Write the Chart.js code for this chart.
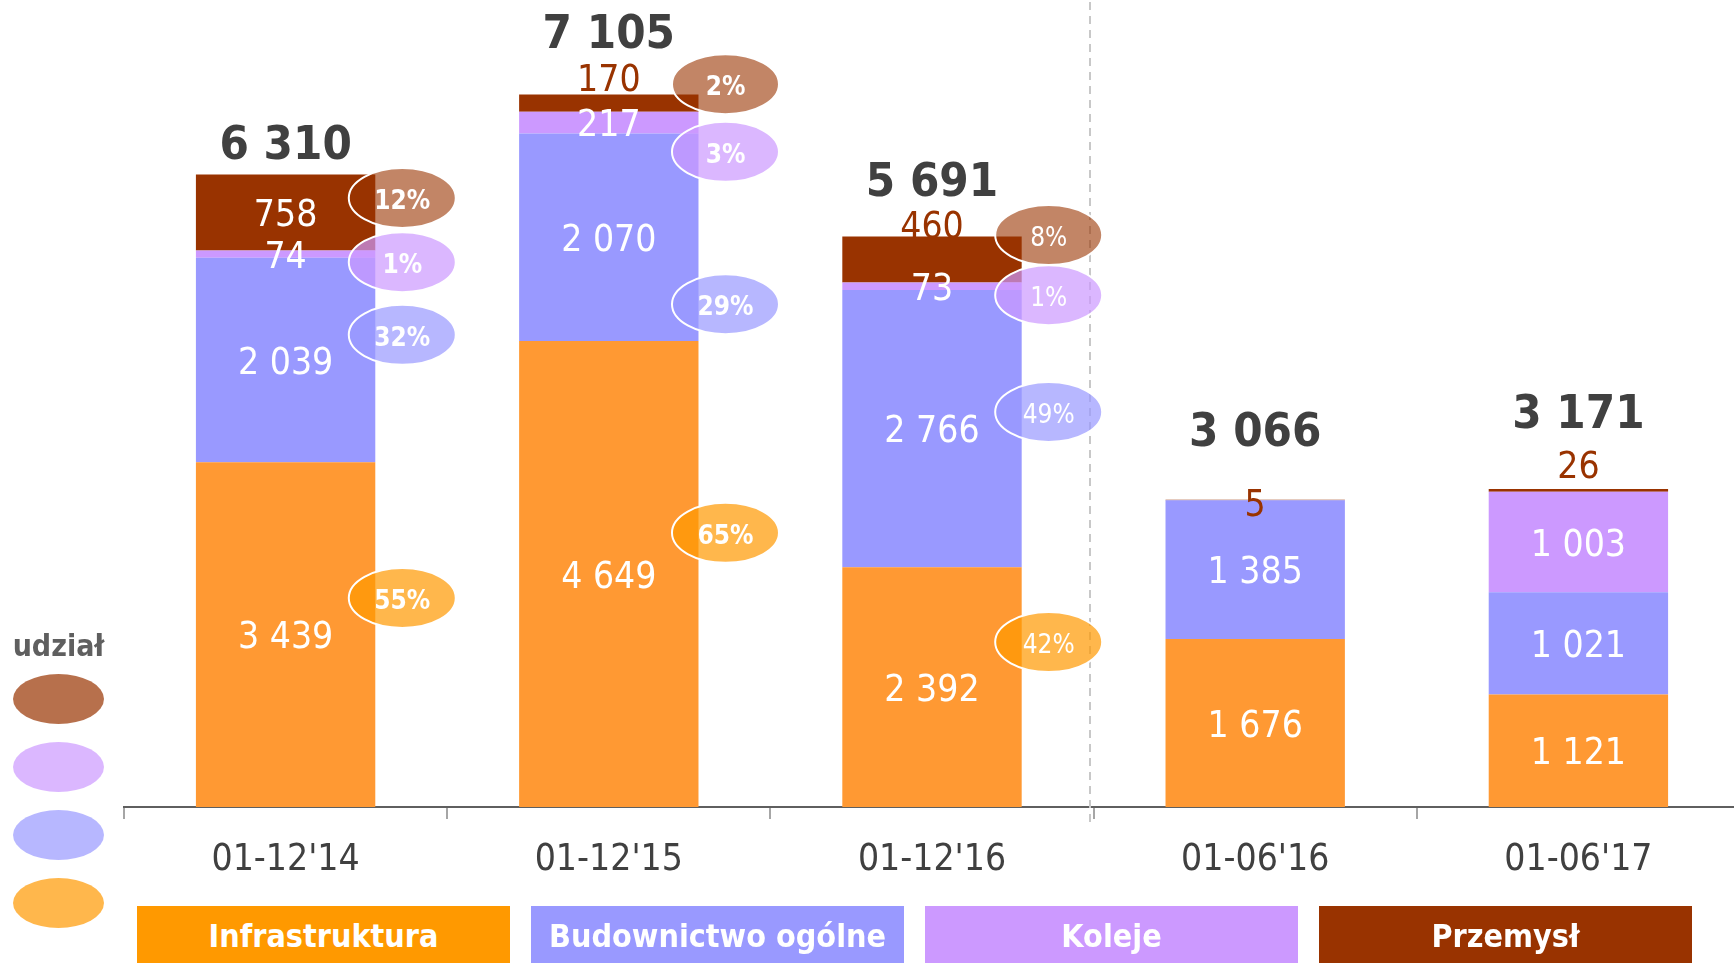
<!DOCTYPE html>
<html lang="pl">
<head>
<meta charset="utf-8">
<title>Portfel zamówień wg segmentów</title>
<script src="https://cdn.jsdelivr.net/npm/chart.js@4.4.1/dist/chart.umd.min.js"></script>
<style>
  html, body { margin: 0; padding: 0; background: #fff; overflow: hidden; }
  #wrap { position: relative; width: 1734px; height: 963px; overflow: hidden; }
  #chart { position: absolute; left: 0; top: 0; }
  .key {
    position: absolute; top: 906px; width: 373px; height: 57px; padding-top: 3px; box-sizing: border-box;
    display: flex; align-items: center; justify-content: center;
    color: #fff; font: bold 32px 'DejaVu Sans Condensed', 'DejaVu Sans', sans-serif;
  }
  .share-title {
    position: absolute; left: 0; top: 628px; width: 117px; text-align: center;
    color: #5f5f5f; font: bold 30px 'DejaVu Sans Condensed', 'DejaVu Sans', sans-serif;
  }
  .share-dot { position: absolute; left: 13px; width: 91px; height: 50px; border-radius: 50%; }
</style>
</head>
<body>
<div id="wrap">
  <canvas id="chart" width="1740" height="963"></canvas>
  <div id="legend"></div>
</div>
<script>
const FONT = "'DejaVu Sans Condensed', 'DejaVu Sans', sans-serif";

const CATEGORIES = ["01-12'14", "01-12'15", "01-12'16", "01-06'16", "01-06'17"];
const INFRASTRUKTURA = [3439, 4649, 2392, 1676, 1121];
const BUDOWNICTWO = [2039, 2070, 2766, 1385, 1021];
const KOLEJE = [74, 217, 73, 0, 1003];
const PRZEMYSL = [758, 170, 460, 5, 26];
const TOTALS = [6310, 7105, 5691, 3066, 3171];

// udział (%) - only the three full-year columns have bubbles
const SHARE_INFRA = [55, 65, 42];
const SHARE_BUD = [32, 29, 49];
const SHARE_KOL = [1, 3, 1];
const SHARE_PRZ = [12, 2, 8];
// level on the value axis where each bubble sits
const BUBBLE_AT_INFRA = [2085, 2735, 1645];
const BUBBLE_AT_BUD = [4710, 5015, 3940];
const BUBBLE_AT_KOL = [5435, 6535, 5105];
const BUBBLE_AT_PRZ = [6075, 7210, 5705];
const BUBBLE_BOLD = [true, true, false];

// label nudges (px above the top of a column)
const PRZ_LABEL_LIFT = [0, 17, 12, -3, 25];
const TOTAL_LIFT = [32, 63, 57, 70, 77];
const TEXT_DY = 4;

const SERIES = [
  { name: 'Infrastruktura', data: INFRASTRUKTURA, bar: '#ff9933', key: '#ff9900', bubble: 'rgba(255,153,0,0.7)',
    share: SHARE_INFRA, at: BUBBLE_AT_INFRA },
  { name: 'Budownictwo ogólne', data: BUDOWNICTWO, bar: '#9999ff', key: '#9999ff', bubble: 'rgba(153,153,255,0.7)',
    share: SHARE_BUD, at: BUBBLE_AT_BUD },
  { name: 'Koleje', data: KOLEJE, bar: '#cc99ff', key: '#cc99ff', bubble: 'rgba(204,153,255,0.7)',
    share: SHARE_KOL, at: BUBBLE_AT_KOL },
  { name: 'Przemysł', data: PRZEMYSL, bar: '#993300', key: '#993300', bubble: 'rgba(153,51,0,0.6)',
    share: SHARE_PRZ, at: BUBBLE_AT_PRZ },
];

function fmt(v) {
  return String(v).replace(/\B(?=(\d{3})+(?!\d))/g, ' ');
}

function buildLegend() {
  const box = document.getElementById('legend');
  SERIES.forEach((s, i) => {
    const el = document.createElement('div');
    el.className = 'key';
    el.style.left = (137 + i * 394) + 'px';
    el.style.background = s.key;
    el.textContent = s.name;
    box.appendChild(el);
  });

  const title = document.createElement('div');
  title.className = 'share-title';
  title.textContent = 'udział';
  box.appendChild(title);

  SERIES.slice().reverse().forEach((s, i) => {
    const dot = document.createElement('div');
    dot.className = 'share-dot';
    dot.style.top = (674 + i * 68) + 'px';
    dot.style.background = s.bubble.replace('0.6)', '0.7)');
    box.appendChild(dot);
  });
}

const annotate = {
  id: 'annotate',
  beforeDatasetsDraw(chart) {
    const { ctx, scales } = chart;
    const x = Math.round(scales.x.getPixelForValue(2.5)) - 4;
    ctx.save();
    ctx.strokeStyle = '#c8c8c8';
    ctx.lineWidth = 2;
    ctx.setLineDash([8, 6]);
    ctx.beginPath();
    ctx.moveTo(x, 2);
    ctx.lineTo(x, 823);
    ctx.stroke();
    ctx.restore();
  },
  afterDatasetsDraw(chart) {
    const { ctx, scales } = chart;
    ctx.save();
    ctx.textAlign = 'center';
    ctx.textBaseline = 'middle';

    // values inside / above the segments
    SERIES.forEach((s, i) => {
      const meta = chart.getDatasetMeta(i);
      s.data.forEach((v, j) => {
        if (!v) return;
        const bar = meta.data[j];
        const { x, y, base } = bar.getProps(['x', 'y', 'base'], true);
        ctx.font = `37px ${FONT}`;
        if (i === 3 && base - y < 60) {
          ctx.fillStyle = '#993300';
          ctx.fillText(fmt(v), x, y - PRZ_LABEL_LIFT[j] + TEXT_DY);
        } else {
          ctx.fillStyle = '#ffffff';
          ctx.fillText(fmt(v), x, (y + base) / 2 + TEXT_DY);
        }
      });
    });

    // totals
    const topMeta = chart.getDatasetMeta(3);
    TOTALS.forEach((t, j) => {
      const bar = topMeta.data[j];
      ctx.font = `bold 47px ${FONT}`;
      ctx.fillStyle = '#404040';
      ctx.fillText(fmt(t), bar.x, bar.y - TOTAL_LIFT[j] + TEXT_DY);
    });

    // share bubbles
    SERIES.forEach((s, i) => {
      const meta = chart.getDatasetMeta(i);
      s.share.forEach((p, j) => {
        const bar = meta.data[j];
        const cx = bar.x + bar.width / 2 + 27;
        const cy = scales.y.getPixelForValue(s.at[j]);
        ctx.beginPath();
        ctx.ellipse(cx, cy, 53.5, 30, 0, 0, Math.PI * 2);
        ctx.fillStyle = s.bubble;
        ctx.fill();
        ctx.lineWidth = 2;
        ctx.strokeStyle = '#ffffff';
        ctx.stroke();
        ctx.font = `${BUBBLE_BOLD[j] ? 'bold ' : ''}26px ${FONT}`;
        ctx.fillStyle = '#ffffff';
        ctx.fillText(p + '%', cx, cy + TEXT_DY);
      });
    });
    ctx.restore();
  },
};

Chart.defaults.font.family = FONT;

new Chart(document.getElementById('chart'), {
  type: 'bar',
  data: {
    labels: CATEGORIES,
    datasets: SERIES.map(s => ({
      label: s.name,
      data: s.data,
      backgroundColor: s.bar,
      borderWidth: 0,
      barPercentage: 0.555,
      categoryPercentage: 1,
    })),
  },
  options: {
    responsive: false,
    animation: false,
    devicePixelRatio: 1,
    layout: { padding: { left: 124, top: 5, right: 0, bottom: 0 } },
    plugins: {
      legend: { display: false },
      tooltip: { enabled: false },
    },
    scales: {
      x: {
        stacked: true,
        offset: true,
        grid: { display: true, drawOnChartArea: false, drawTicks: true, tickLength: 12, color: '#a6a6a6', lineWidth: 2 },
        border: { display: true, color: '#5f5f5f', width: 2 },
        ticks: { color: '#404040', font: { size: 37 }, padding: 19, maxRotation: 0, autoSkip: false },
        afterFit: s => { s.height = 156; },
      },
      y: {
        stacked: true,
        display: false,
        min: 0,
        max: 8000,
      },
    },
  },
  plugins: [annotate],
});

buildLegend();
</script>
</body>
</html>
